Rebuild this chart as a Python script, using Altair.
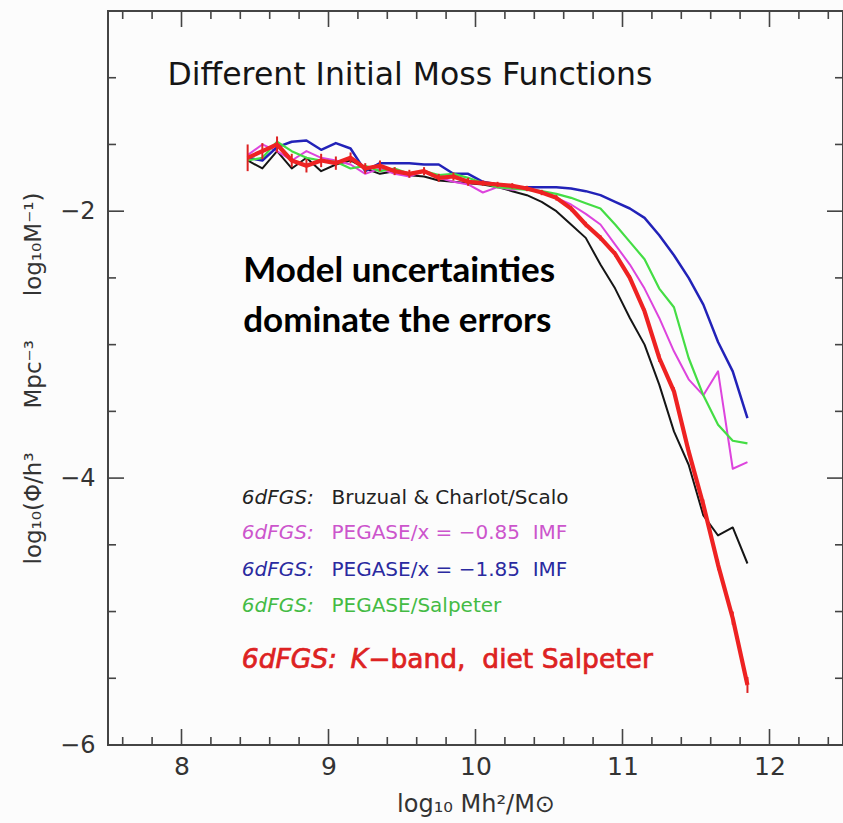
import altair as alt
import pandas as pd

# ---------------- data ----------------
mass = [8.45, 8.55, 8.65, 8.75, 8.85, 8.95, 9.05, 9.15, 9.25, 9.35,
        9.45, 9.55, 9.65, 9.75, 9.85, 9.95, 10.05, 10.15, 10.25, 10.35,
        10.45, 10.55, 10.65, 10.75, 10.85, 10.95, 11.05, 11.15, 11.25, 11.35,
        11.45, 11.55, 11.65, 11.75, 11.85]

black_bc = [-1.62, -1.68, -1.55, -1.68, -1.60, -1.70, -1.65, -1.62, -1.68, -1.72,
            -1.70, -1.73, -1.74, -1.77, -1.78, -1.79, -1.80, -1.82, -1.85, -1.88,
            -1.93, -2.00, -2.10, -2.20, -2.40, -2.58, -2.80, -3.00, -3.30, -3.65,
            -3.90, -4.28, -4.43, -4.37, -4.64]

magenta_085 = [-1.58, -1.50, -1.55, -1.62, -1.55, -1.60, -1.62, -1.65, -1.72, -1.68,
               -1.72, -1.74, -1.70, -1.75, -1.78, -1.80, -1.86, -1.82, -1.84, -1.83,
               -1.85, -1.90, -1.95, -2.02, -2.10, -2.25, -2.40, -2.58, -2.80, -3.05,
               -3.26, -3.38, -3.20, -3.93, -3.88]

blue_185 = [-1.60, -1.62, -1.52, -1.48, -1.47, -1.54, -1.49, -1.53, -1.70, -1.64,
            -1.64, -1.64, -1.65, -1.65, -1.72, -1.72, -1.78, -1.80, -1.82, -1.82,
            -1.82, -1.82, -1.83, -1.85, -1.88, -1.93, -1.98, -2.05, -2.18, -2.33,
            -2.50, -2.70, -2.98, -3.20, -3.55]

green_salp = [-1.62, -1.60, -1.48, -1.55, -1.60, -1.62, -1.63, -1.68, -1.66, -1.70,
              -1.68, -1.72, -1.70, -1.73, -1.72, -1.75, -1.79, -1.82, -1.83, -1.84,
              -1.85, -1.87, -1.90, -1.94, -1.98, -2.10, -2.23, -2.36, -2.58, -2.72,
              -3.10, -3.38, -3.60, -3.72, -3.74]

red_kband = [-1.60, -1.55, -1.50, -1.62, -1.66, -1.62, -1.64, -1.60, -1.68, -1.66,
             -1.70, -1.72, -1.70, -1.75, -1.74, -1.78, -1.79, -1.80, -1.81, -1.83,
             -1.86, -1.90, -1.98, -2.10, -2.20, -2.32, -2.50, -2.75, -3.10, -3.35,
             -3.80, -4.20, -4.65, -5.05, -5.55]

red_err = [0.10, 0.06, 0.06, 0.05, 0.05, 0.05, 0.05, 0.04, 0.04, 0.04,
           0.03, 0.03, 0.03, 0.03, 0.03, 0.03, 0.02, 0.02, 0.02, 0.02,
           0.02, 0.02, 0.02, 0.02, 0.02, 0.02, 0.02, 0.02, 0.03, 0.03,
           0.03, 0.04, 0.04, 0.05, 0.06]

series_names = ["Bruzual & Charlot/Scalo", "PEGASE/x=-0.85 IMF",
                "PEGASE/x=-1.85 IMF", "PEGASE/Salpeter"]
series_values = [black_bc, magenta_085, blue_185, green_salp]
series_colors = ["#151515", "#dd44dd", "#2222b8", "#44dd44"]
series_widths = [2.0, 2.0, 2.5, 2.2]

x_major = [8, 9, 10, 11, 12]
x_minor = [7.6, 7.8, 8.2, 8.4, 8.6, 8.8, 9.2, 9.4, 9.6, 9.8, 10.2, 10.4,
           10.6, 10.8, 11.2, 11.4, 11.6, 11.8, 12.2, 12.4]
y_major = [-2, -4, -6]
y_minor = [-5.5, -5, -4.5, -3.5, -3, -2.5, -1.5, -1]

NB = "\u00a0"
legend_prefix = ["6dFGS:", "6dFGS:", "6dFGS:", "6dFGS:"]
legend_text = ["Bruzual & Charlot/Scalo",
               "PEGASE/x = −0.85" + NB * 2 + "IMF",
               "PEGASE/x = −1.85" + NB * 2 + "IMF",
               "PEGASE/Salpeter"]
legend_colors = ["#222222", "#cc55cc", "#2a2aa0", "#44bb44"]
legend_y = [-4.15, -4.41, -4.69, -4.96]

y_title = "log₁₀(Φ/h³" + NB * 6 + "Mpc⁻³" + NB * 6 + "log₁₀M⁻¹)"
x_title = "log₁₀ Mh²/M⊙"

# ---------------- layout ----------------
W, H = 735, 734
XD = [7.5, 12.5]
YD = [-6.0, -0.5]
xs = alt.Scale(domain=XD, nice=False, zero=False)
ys = alt.Scale(domain=YD, nice=False, zero=False)
FONT = "DejaVu Sans"
AX = "#444444"

x_axis = alt.Axis(values=x_major, ticks=False, domain=False, grid=False,
                  labelFontSize=25, labelFont=FONT, labelColor="#333333",
                  labelPadding=9, title=x_title, titleFont=FONT,
                  titleFontSize=24, titleFontWeight="normal", titleColor="#333333",
                  titlePadding=13)
y_axis = alt.Axis(values=y_major, ticks=False, domain=False, grid=False,
                  labelFontSize=24, labelFont=FONT, labelColor="#333333",
                  labelPadding=13,
                  title=y_title, titleFont=FONT,
                  titleFontSize=23, titleFontWeight="normal", titleColor="#333333",
                  titlePadding=14)


def X(field):
    return alt.X(field, scale=xs, axis=x_axis)


def Y(field):
    return alt.Y(field, scale=ys, axis=y_axis)


frames = []
for name, vals in zip(series_names, series_values):
    frames.append(pd.DataFrame({"mass": mass, "phi": vals, "series": name}))
lines_df = pd.concat(frames, ignore_index=True)

base_layers = []
for name, col, sw in zip(series_names, series_colors, series_widths):
    base_layers.append(
        alt.Chart(lines_df).transform_filter(alt.datum.series == name)
        .mark_line(color=col, strokeWidth=sw, strokeJoin="round")
        .encode(x=X("mass:Q"), y=Y("phi:Q"))
    )

red_df = pd.DataFrame({"mass": mass, "phi": red_kband, "err": red_err})
red_df["lo"] = red_df["phi"] - red_df["err"]
red_df["hi"] = red_df["phi"] + red_df["err"]

red_line = alt.Chart(red_df).mark_line(color="#ee2222", strokeWidth=4.2,
                                       strokeJoin="round").encode(
    x=X("mass:Q"), y=Y("phi:Q"))
red_err_rules = alt.Chart(red_df).mark_rule(color="#dd2222", strokeWidth=2).encode(
    x=X("mass:Q"), y=Y("lo:Q"), y2="hi:Q")


# ---------------- inward ticks on all four sides ----------------
def xticks(vals, length):
    df = pd.DataFrame({"t": vals})
    bottom = alt.Chart(df).mark_rule(color=AX, strokeWidth=1.6).encode(
        x=X("t:Q"), y=alt.value(H), y2=alt.value(H - length))
    top = alt.Chart(df).mark_rule(color=AX, strokeWidth=1.6).encode(
        x=X("t:Q"), y=alt.value(0), y2=alt.value(length))
    return [bottom, top]


def yticks(vals, length):
    df = pd.DataFrame({"t": vals})
    left = alt.Chart(df).mark_rule(color=AX, strokeWidth=1.6).encode(
        y=Y("t:Q"), x=alt.value(0), x2=alt.value(length))
    right = alt.Chart(df).mark_rule(color=AX, strokeWidth=1.6).encode(
        y=Y("t:Q"), x=alt.value(W), x2=alt.value(W - length))
    return [left, right]


tick_layers = xticks(x_major, 16) + xticks(x_minor, 8) + yticks(y_major, 16) + yticks(y_minor, 8)


# ---------------- texts ----------------
def text_layer(df, **kw):
    return alt.Chart(df).mark_text(align="left", baseline="middle", **kw).encode(
        x=X("x:Q"), y=Y("y:Q"), text="t:N")


title_t = text_layer(pd.DataFrame({"x": [7.905], "y": [-0.99],
                                   "t": ["Different Initial Moss Functions"]}),
                     font=FONT, fontSize=31.5, color="#151515")

note_t = text_layer(pd.DataFrame({"x": [8.42, 8.42], "y": [-2.45, -2.82],
                                  "t": ["Model uncertainties", "dominate the errors"]}),
                    font="Lato", fontSize=35, fontWeight="bold", color="#000000")

legend_layers = []
for pre, txt, col, yy in zip(legend_prefix, legend_text, legend_colors, legend_y):
    legend_layers.append(text_layer(pd.DataFrame({"x": [8.41], "y": [yy], "t": [pre]}),
                                    font=FONT, fontSize=20, fontStyle="italic", color=col))
    legend_layers.append(text_layer(pd.DataFrame({"x": [9.02], "y": [yy], "t": [txt]}),
                                    font=FONT, fontSize=20, color=col))
RED_T = "#dd2222"
legend_layers.append(text_layer(pd.DataFrame({"x": [8.41], "y": [-5.36], "t": ["6dFGS:"]}),
                                font=FONT, fontSize=26.5, fontStyle="italic", color=RED_T,
                                stroke=RED_T, strokeWidth=0.7))
legend_layers.append(text_layer(pd.DataFrame({"x": [9.15], "y": [-5.36], "t": ["K"]}),
                                font=FONT, fontSize=26.5, fontStyle="italic", color=RED_T,
                                stroke=RED_T, strokeWidth=0.7))
legend_layers.append(text_layer(pd.DataFrame({"x": [9.27], "y": [-5.36],
                                              "t": ["−band," + NB * 2 + "diet Salpeter"]}),
                                font=FONT, fontSize=26.5, color=RED_T,
                                stroke=RED_T, strokeWidth=0.7))

chart = alt.layer(
    *base_layers, red_err_rules, red_line, *tick_layers, title_t, note_t, *legend_layers
).properties(
    width=W, height=H,
    autosize=alt.AutoSizeParams(type="none"),
    padding={"left": 108, "top": 11, "right": 0, "bottom": 78},
    background="#fcfcfc",
).configure_view(
    stroke="#444444", strokeWidth=2
)

chart.save("out.html", embed_options={"renderer": "svg", "actions": False})
